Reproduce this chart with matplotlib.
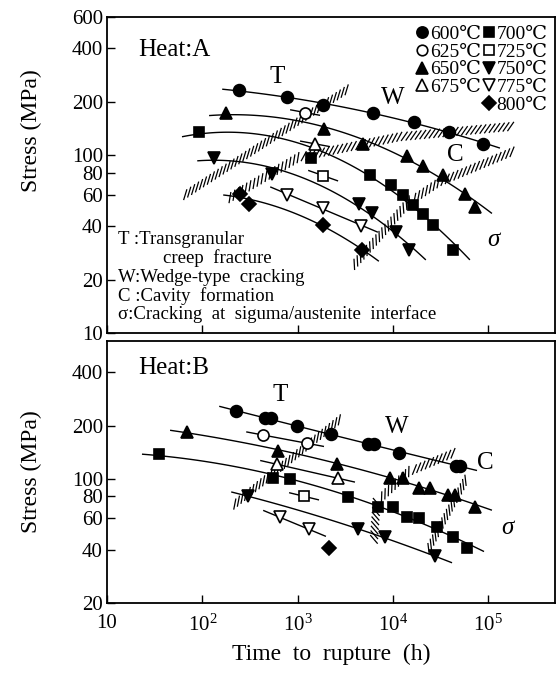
import numpy as np
import matplotlib
matplotlib.use("Agg")
import matplotlib.pyplot as plt
import matplotlib.patheffects as pe
from matplotlib.lines import Line2D

plt.rcParams['font.family'] = ['Liberation Serif', 'DejaVu Serif']
plt.rcParams['mathtext.fontset'] = 'custom'
plt.rcParams['mathtext.rm'] = 'Liberation Serif'
plt.rcParams['mathtext.it'] = 'Liberation Serif:italic'

# ---- Heat A : time to rupture (h) / stress (MPa) ----
a_t600 = [243, 774, 1850, 6180, 16600, 38800, 88100]
a_s600 = [232, 212, 191, 174, 153, 136, 116]
a_t625 = [1196]
a_s625 = [174]
a_t650 = [177, 1890, 4850, 14060, 20700, 33600, 57100, 72800]
a_s650 = [172, 140, 116, 99.6, 87.5, 77.8, 60.8, 51.3]
a_t675 = [1520]
a_s675 = [116]
a_t700 = [92, 1380, 5750, 9550, 12760, 16300, 20700, 26400, 42800]
a_s700 = [136, 97, 77.8, 68.4, 60, 52.7, 46.9, 40.6, 29.3]
a_t725 = [1850]
a_s725 = [76.8]
a_t750 = [133, 538, 4400, 6040, 10800, 14760]
a_s750 = [97, 78.8, 53.4, 47.5, 37.1, 29.3]
a_t775 = [774, 1850, 4620]
a_s775 = [60, 50.7, 40.1]
a_t800 = [249, 309, 1850, 4740]
a_s800 = [60.8, 53.4, 40.6, 29.3]

# boundaries between fracture modes (hatched bands), heat A
a_tw_t = [61, 3300]
a_tw_s = [55.5, 223]
a_wc_t = [182, 1060, 11860, 169000]
a_wc_s = [53.4, 93, 121, 138]
a_cs_t = [3810, 7330, 15100, 31200, 178000]
a_cs_s = [22.3, 33, 52, 67.4, 99.6]

# ---- Heat B ----
b_t600 = [226, 455, 526, 986, 2240, 5480, 6340, 11590, 45900, 50600]
b_s600 = [241, 220, 220, 199, 179, 157, 157, 140, 119, 119]
b_t625 = [434, 1256]
b_s625 = [177, 159]
b_t650 = [69, 623, 2590, 9330, 12770, 18800, 24500, 37800, 44800, 72600]
b_s650 = [184, 143.5, 121, 101, 101, 88.6, 88.6, 80.9, 80.9, 69.2]
b_t675 = [608, 2655]
b_s675 = [121, 101]
b_t700 = [35, 552, 832, 3380, 6990, 10000, 14060, 18800, 29000, 42800, 60000]
b_s700 = [138, 101, 100, 78.8, 69.2, 69.2, 60.8, 60, 53.4, 46.9, 40.6]
b_t725 = [1167]
b_s725 = [79.9]
b_t750 = [302, 4300, 8260, 27700]
b_s750 = [80, 52, 46.9, 36.6]
b_t775 = [653, 1318]
b_s775 = [60.8, 52]
b_t800 = [2130]
b_s800 = [40.6]

b_tw_t = [205, 2790]
b_tw_s = [66.5, 206]
b_wc_t = [6810, 7330, 15100, 42800]
b_wc_s = [42.2, 73, 105, 133]
b_cs_t = [23300, 60000]
b_cs_s = [37, 94.6]

temps = ['600', '625', '650', '675', '700', '725', '750', '775', '800']
marks = ['o', 'o', '^', '^', 's', 's', 'v', 'v', 'D']
fills = ['k', 'w', 'k', 'w', 'k', 'w', 'k', 'w', 'k']
sizes = [8.5, 8, 9, 9, 7, 7, 9, 9, 7]

heat_a = [(a_t600, a_s600, None), (a_t625, a_s625, -0.10), (a_t650, a_s650, None),
          (a_t675, a_s675, -0.10), (a_t700, a_s700, None), (a_t725, a_s725, -0.19),
          (a_t750, a_s750, None), (a_t775, a_s775, None), (a_t800, a_s800, None)]
heat_b = [(b_t600, b_s600, None), (b_t625, b_s625, None), (b_t650, b_s650, None),
          (b_t675, b_s675, None), (b_t700, b_s700, None), (b_t725, b_s725, -0.13),
          (b_t750, b_s750, None), (b_t775, b_s775, None), (b_t800, b_s800, 0)]


def draw_curve(ax, t, s, slope, ext=0.17):
    lt = np.log10(t)
    ls = np.log10(s)
    if len(t) == 1:
        if slope == 0:
            return  # lone point, no line
        xs = np.array([lt[0] - 0.15, lt[0] + 0.15])
        ys = ls[0] + slope * (xs - lt[0])
    else:
        deg = 2 if len(t) >= 4 else 1
        p = np.polyfit(lt, ls, deg)
        xs = np.linspace(lt.min() - ext, lt.max() + ext, 100)
        ys = np.polyval(p, xs)
    ax.plot(10 ** xs, 10 ** ys, color='k', lw=1.0, zorder=2)


def draw_band(ax, t, s, ang=45):
    ax.plot(t, s, color='none', lw=0,
            path_effects=[pe.withTickedStroke(angle=ang, spacing=3.3, length=2.2,
                                              linewidth=0.9, foreground='k')])


def setup(ax, ylo, yticks):
    ax.set_xscale('log')
    ax.set_yscale('log')
    ax.set_xlim(10, 5e5)
    ax.set_ylim(ylo, 600)
    ax.set_yticks(yticks)
    ax.set_yticklabels([str(v) for v in yticks])
    ax.yaxis.set_minor_locator(matplotlib.ticker.NullLocator())
    ax.xaxis.set_minor_locator(matplotlib.ticker.NullLocator())
    ax.tick_params(direction='in', length=6, width=1.0, labelsize=15, pad=3,
                   top=False, right=False)
    for sp in ax.spines.values():
        sp.set_linewidth(1.3)
    ax.set_ylabel('Stress (MPa)', fontsize=17)


fig = plt.figure(figsize=(5.59, 6.77), dpi=100)
ax1 = fig.add_axes([0.1914, 0.5081, 0.8014, 0.4668])
ax2 = fig.add_axes([0.1914, 0.1093, 0.8014, 0.3870])

setup(ax1, 10, [10, 20, 40, 60, 80, 100, 200, 400, 600])
setup(ax2, 20, [20, 40, 60, 80, 100, 200, 400])
ax1.yaxis.set_label_coords(-0.145, 0.64)
ax2.yaxis.set_label_coords(-0.145, 0.50)

xt = [10, 100, 1000, 1e4, 1e5]
for ax in (ax1, ax2):
    ax.set_xticks(xt)
ax1.set_xticklabels([])
ax2.set_xticklabels(['10', r'$\mathdefault{10^{2}}$', r'$\mathdefault{10^{3}}$',
                     r'$\mathdefault{10^{4}}$', r'$\mathdefault{10^{5}}$'])
ax2.tick_params(axis='x', pad=8)
ax2.set_xlabel('Time  to  rupture  (h)', fontsize=17, labelpad=6)

for ax, series in ((ax1, heat_a), (ax2, heat_b)):
    for (t, s, slope), m, fc, ms in zip(series, marks, fills, sizes):
        draw_curve(ax, t, s, slope)
        ax.plot(t, s, ls='none', marker=m, ms=ms, mfc=fc, mec='k', mew=1.2, zorder=3)

draw_band(ax1, a_tw_t, a_tw_s, 40)
draw_band(ax1, a_wc_t, a_wc_s, 50)
draw_band(ax1, a_cs_t, a_cs_s, 45)
draw_band(ax2, b_tw_t, b_tw_s, 40)
draw_band(ax2, b_wc_t, b_wc_s, 45)
draw_band(ax2, b_cs_t, b_cs_s, 35)

# labels of fracture modes
ax1.text(0.069, 0.896, 'Heat:A', transform=ax1.transAxes, fontsize=18, va='center')
ax2.text(0.069, 0.897, 'Heat:B', transform=ax2.transAxes, fontsize=18, va='center')
for ax, pos in ((ax1, [(0.379, 0.81), (0.638, 0.744), (0.777, 0.563), (0.862, 0.294)]),
                (ax2, [(0.386, 0.794), (0.647, 0.672), (0.844, 0.534), (0.895, 0.286)])):
    for lab, (x, y) in zip(['T', 'W', 'C', 'σ'], pos):
        ax.text(x, y, lab, transform=ax.transAxes, fontsize=18, ha='center', va='center',
                style='italic' if lab == 'σ' else 'normal')

notes = ['T :Transgranular', 'creep  fracture', 'W:Wedge-type  cracking',
         'C :Cavity  formation', 'σ:Cracking  at  siguma/austenite  interface']
note_y = [0.297, 0.237, 0.177, 0.117, 0.060]
for i, (txt, y) in enumerate(zip(notes, note_y)):
    ax1.text(0.125 if i == 1 else 0.025, y, txt, transform=ax1.transAxes,
             fontsize=13.5, va='center')

# legend: 4 + blank in first column, 5 in second
handles = []
labels = []
for i, (temp, m, fc, ms) in enumerate(zip(temps, marks, fills, sizes)):
    if i == 4:
        handles.append(Line2D([], [], ls='none'))
        labels.append('')
    handles.append(Line2D([], [], ls='none', marker=m, ms=ms * 0.95, mfc=fc, mec='k', mew=1.2))
    labels.append(temp + '℃')
ax1.legend(handles, labels, ncol=2, loc='upper right', bbox_to_anchor=(1.01, 1.01),
           frameon=False, fontsize=14, handlelength=0.6, handletextpad=0.1,
           columnspacing=0.1, labelspacing=0.0, borderaxespad=0.2)

fig.savefig('out.png', dpi=100)
